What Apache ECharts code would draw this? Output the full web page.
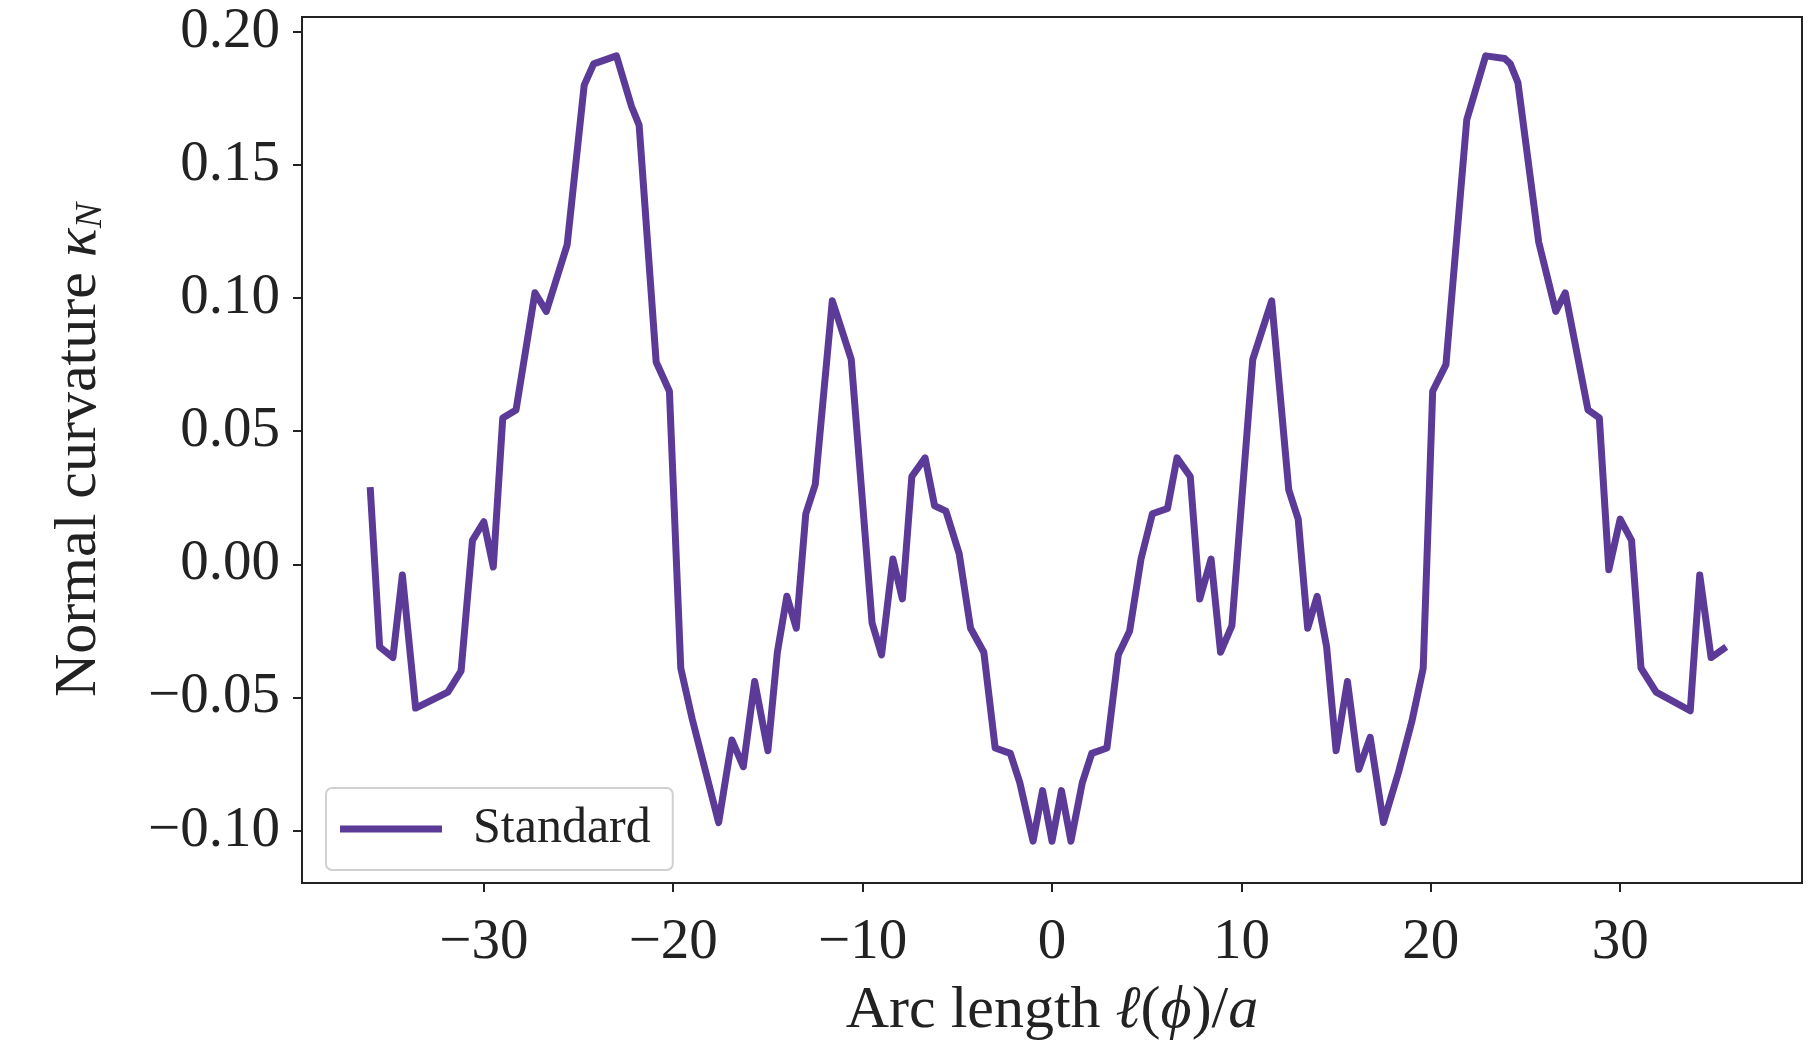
<!DOCTYPE html>
<html>
<head>
<meta charset="utf-8">
<script src="https://cdn.jsdelivr.net/npm/echarts@6/dist/echarts.min.js"></script>
<style>
  html, body { margin: 0; padding: 0; background: #ffffff; }
  #chart { width: 1808px; height: 1046px; }
</style>
</head>
<body>
<div id="chart"></div>
<script>
// Arc length l(phi)/a
const arcLength = [
  -36.0, -35.5, -34.8, -34.3, -33.6, -31.9, -31.2, -30.6, -30.0, -29.5,
  -29.0, -28.3, -27.3, -26.7, -25.6, -24.7, -24.2, -23.0, -22.2, -21.8,
  -20.9, -20.2, -19.6, -19.0, -17.6, -16.9, -16.3, -15.7, -15.0, -14.5,
  -14.0, -13.5, -13.0, -12.5, -11.6, -10.6, -9.5, -9.0, -8.4, -7.9,
  -7.4, -6.7, -6.2, -5.6, -4.9, -4.3, -3.6, -3.0, -2.2, -1.7,
  -1.0, -0.5, 0.0, 0.5, 1.0, 1.6, 2.1, 2.9, 3.5, 4.1,
  4.7, 5.3, 6.1, 6.6, 7.3, 7.8, 8.4, 8.9, 9.5, 10.6,
  11.6, 12.5, 13.0, 13.5, 14.0, 14.5, 15.0, 15.6, 16.2, 16.8,
  17.5, 18.3, 19.0, 19.6, 20.1, 20.8, 21.9, 22.9, 23.9, 24.2,
  24.6, 25.7, 26.6, 27.1, 28.3, 28.9, 29.4, 30.0, 30.6, 31.1,
  31.9, 33.7, 34.2, 34.8, 35.6
];
// Normal curvature kappa_N, series "Standard"
const standardCurvature = [
  0.029, -0.031, -0.035, -0.004, -0.054, -0.048, -0.040, 0.009, 0.016, -0.001,
  0.055, 0.058, 0.102, 0.095, 0.120, 0.180, 0.188, 0.191, 0.172, 0.165,
  0.076, 0.065, -0.039, -0.058, -0.097, -0.066, -0.076, -0.044, -0.070, -0.033,
  -0.012, -0.024, 0.019, 0.030, 0.099, 0.077, -0.022, -0.034, 0.002, -0.013,
  0.033, 0.040, 0.022, 0.020, 0.004, -0.024, -0.033, -0.069, -0.071, -0.082,
  -0.104, -0.085, -0.104, -0.085, -0.104, -0.082, -0.071, -0.069, -0.034, -0.025,
  0.002, 0.019, 0.021, 0.040, 0.033, -0.013, 0.002, -0.033, -0.023, 0.077,
  0.099, 0.028, 0.017, -0.024, -0.012, -0.031, -0.070, -0.044, -0.077, -0.065,
  -0.097, -0.078, -0.059, -0.039, 0.065, 0.075, 0.167, 0.191, 0.190, 0.188,
  0.181, 0.121, 0.095, 0.102, 0.058, 0.055, -0.002, 0.017, 0.009, -0.039,
  -0.048, -0.055, -0.004, -0.035, -0.031
];
const xTicks = [-30, -20, -10, 0, 10, 20, 30];
const yTicks = [-0.10, -0.05, 0.00, 0.05, 0.10, 0.15, 0.20];
const seriesName = 'Standard';

const chart = echarts.init(document.getElementById('chart'), null, { renderer: 'canvas' });
const FONT = 'Liberation Serif';
const LINE_COLOR = '#5c3a98';
const data = arcLength.map((x, i) => [x, standardCurvature[i]]);
const minus = s => s.replace('-', '\u2212');

chart.setOption({
  backgroundColor: '#ffffff',
  animation: false,
  grid: {
    left: 302, right: 6, top: 17, bottom: 155,
    show: true, borderColor: '#222', borderWidth: 2, backgroundColor: '#ffffff'
  },
  legend: {
    data: [{ name: seriesName, icon: 'rect' }],
    left: 326, top: 788,
    orient: 'vertical',
    backgroundColor: 'rgba(255,255,255,0.85)',
    borderColor: '#d0d0d0', borderWidth: 2, borderRadius: 6,
    padding: [16, 22, 16, 14],
    itemWidth: 102, itemHeight: 7, itemGap: 10,
    itemStyle: { color: LINE_COLOR },
    textStyle: { fontFamily: FONT, fontSize: 50, color: '#222', padding: [0, 0, 0, 26] }
  },
  xAxis: {
    type: 'value',
    min: -39.6, max: 39.6,
    name: '{n|Arc length }{i|ℓ}{n|(}{i|ϕ}{n|)/}{i|a}',
    nameLocation: 'middle',
    nameGap: 98,
    nameTextStyle: {
      rich: {
        n: { fontFamily: FONT, fontSize: 60, color: '#222' },
        i: { fontFamily: FONT, fontSize: 60, fontStyle: 'italic', color: '#222' }
      }
    },
    axisLine: { show: true, onZero: false, lineStyle: { color: '#222', width: 2 } },
    axisTick: { show: true, inside: false, length: 9, lineStyle: { color: '#222', width: 2 }, customValues: xTicks },
    axisLabel: {
      customValues: xTicks,
      margin: 32,
      fontFamily: FONT, fontSize: 57, color: '#222',
      formatter: v => minus(String(v))
    },
    splitLine: { show: false }
  },
  yAxis: {
    type: 'value',
    min: -0.1197, max: 0.2056,
    name: '{n|Normal curvature }{i|κ}{s|N}',
    nameLocation: 'middle',
    nameGap: 192,
    nameRotate: 90,
    nameTextStyle: {
      rich: {
        n: { fontFamily: FONT, fontSize: 60, color: '#222' },
        i: { fontFamily: FONT, fontSize: 60, fontStyle: 'italic', color: '#222' },
        s: { fontFamily: FONT, fontSize: 38, fontStyle: 'italic', color: '#222', verticalAlign: 'bottom', padding: [24, 0, 0, 0] }
      }
    },
    axisLine: { show: true, onZero: false, lineStyle: { color: '#222', width: 2 } },
    axisTick: { show: true, inside: false, length: 9, lineStyle: { color: '#222', width: 2 }, customValues: yTicks },
    axisLabel: {
      customValues: yTicks,
      margin: 22,
      fontFamily: FONT, fontSize: 57, color: '#222',
      formatter: v => minus(v.toFixed(2))
    },
    splitLine: { show: false }
  },
  series: [{
    name: seriesName,
    type: 'line',
    data: data,
    symbol: 'none',
    smooth: false,
    lineStyle: { color: LINE_COLOR, width: 7, join: 'round' },
    itemStyle: { color: LINE_COLOR }
  }]
});
</script>
</body>
</html>
